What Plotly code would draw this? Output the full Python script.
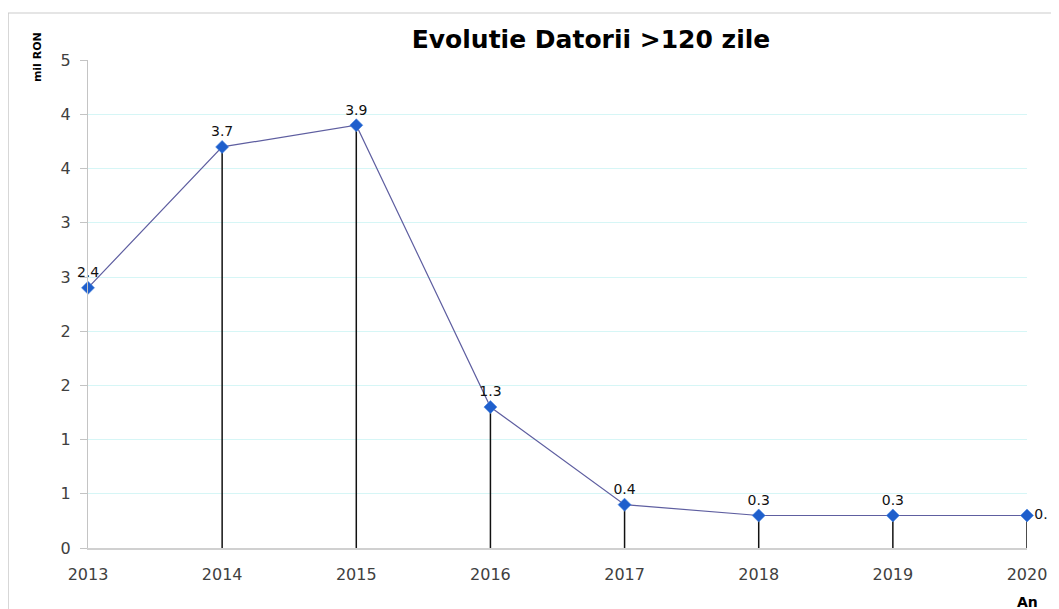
import plotly.graph_objects as go

# ---- data ----
years = [2013, 2014, 2015, 2016, 2017, 2018, 2019, 2020]
values = [2.4, 3.7, 3.9, 1.3, 0.4, 0.3, 0.3, 0.3]
labels = ["2.4", "3.7", "3.9", "1.3", "0.4", "0.3", "0.3", "0."]
y_tickvals = [0, 0.5, 1, 1.5, 2, 2.5, 3, 3.5, 4, 4.5]
y_ticktext = ["0", "1", "1", "2", "2", "3", "3", "4", "4", "5"]
title_text = "Evolutie Datorii >120 zile"
y_title = "mil RON"
x_title = "An"

FONT = "DejaVu Sans"
OFF = 8                      # page body margin offset
W, H = 1059 - OFF, 609 - OFF
# plot area in absolute window pixels: x 88..1029, y 60..548
L, T = 88 - OFF, 60 - OFF
pw, ph = 941, 488
R, B = W - L - pw, H - T - ph


def px_x(px):                # absolute window px -> paper
    return (px - OFF - L) / pw


def px_y(py):
    return (T + ph - (py - OFF)) / ph


fig = go.Figure()

# drop lines (the first one is hidden behind the value axis, as in the original)
dx, dy = [], []
for yr, v in zip(years[1:], values[1:]):
    dx += [yr, yr, None]
    dy += [v, 0, None]
fig.add_trace(go.Scatter(
    x=dx, y=dy, mode="lines",
    line=dict(color="#111111", width=1.5),
    hoverinfo="skip", showlegend=False,
))

positions = ["top center"] * (len(years) - 1) + ["middle right"]
fig.add_trace(go.Scatter(
    x=years, y=values, mode="lines+markers+text",
    line=dict(color="#5e5ea0", width=1.2),
    marker=dict(symbol="diamond", size=10, color="#1f5fcc",
                line=dict(color="#4a86e0", width=0.6)),
    text=labels, textposition=positions,
    textfont=dict(family=FONT, size=14, color="#111111"),
    cliponaxis=False, showlegend=False,
))

fig.update_layout(
    width=W, height=H,
    margin=dict(l=L, r=R, t=T, b=B),
    paper_bgcolor="white", plot_bgcolor="white",
    font=dict(family=FONT, color="#404040"),
    title=dict(text=title_text, xref="container", yref="container",
               x=(591 - OFF) / W, y=1 - (39 - OFF) / H,
               xanchor="center", yanchor="middle",
               font=dict(family=FONT, size=25, color="#000000", weight="bold")),
    xaxis=dict(
        range=[2013, 2020], tickvals=years, ticktext=[str(y) for y in years],
        showgrid=False, zeroline=False,
        showline=True, linecolor="#d0d0d0", linewidth=1.5,
        ticks="", tickfont=dict(family=FONT, size=16, color="#404040"),
        ticklabelstandoff=11,
    ),
    yaxis=dict(
        range=[0, 4.502], tickvals=y_tickvals, ticktext=y_ticktext,
        showgrid=True, gridcolor="#d6f6f6", gridwidth=1,
        zeroline=False, showline=True, linecolor="#c4c4c4", linewidth=1,
        ticks="outside", ticklen=7, tickcolor="#c4c4c4",
        tickfont=dict(family=FONT, size=16, color="#404040"),
        ticklabelstandoff=6,
    ),
    shapes=[dict(type="rect", xref="paper", yref="paper",
                 x0=px_x(8), x1=px_x(1100), y0=px_y(700), y1=px_y(13),
                 line=dict(color="#cccccc", width=1.2), layer="below")],
    annotations=[
        dict(text=y_title, xref="paper", yref="paper", x=px_x(37), y=px_y(57),
             xanchor="center", yanchor="middle", textangle=-90, showarrow=False,
             font=dict(family=FONT, size=11, color="#000000", weight="bold")),
        dict(text=x_title, xref="paper", yref="paper", x=px_x(1029), y=px_y(602),
             xanchor="center", yanchor="middle", showarrow=False,
             font=dict(family=FONT, size=14, color="#000000", weight="bold")),
    ],
)

fig.write_html("out.html")
